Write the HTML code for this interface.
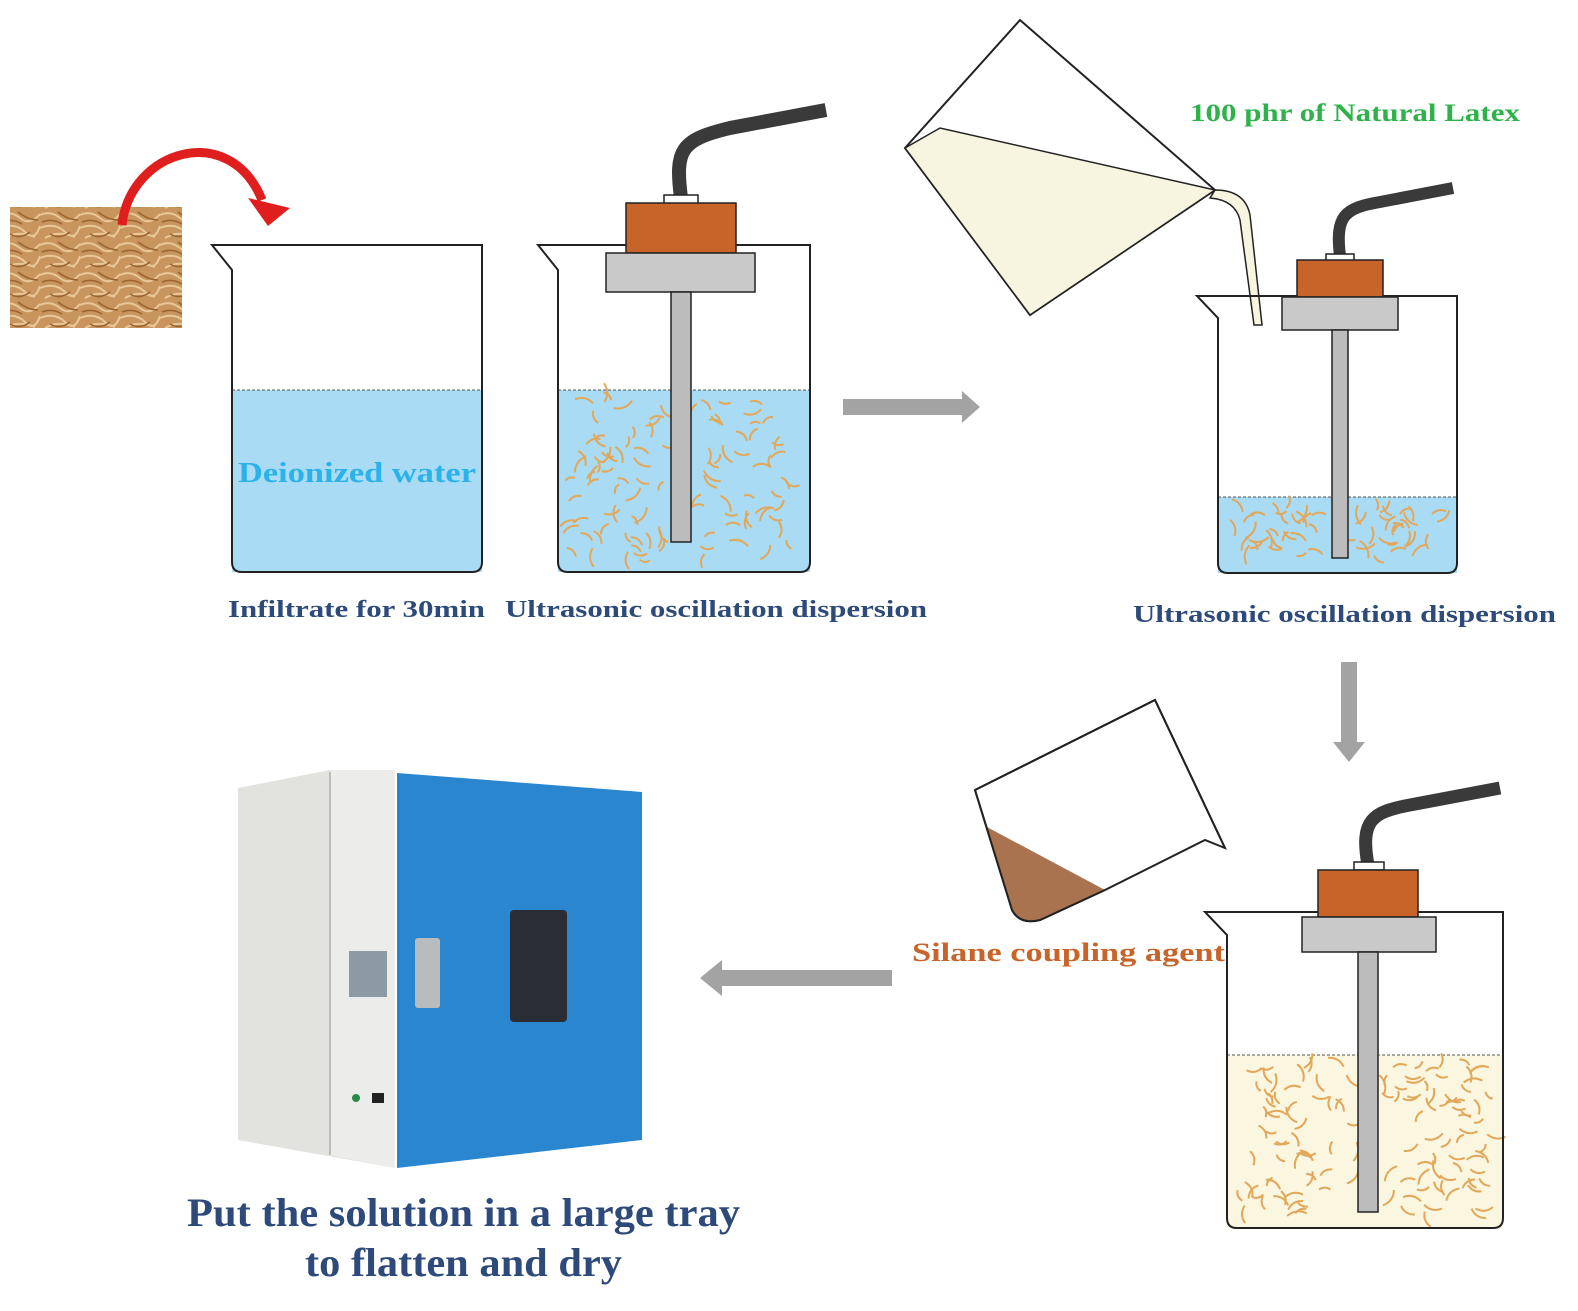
<!DOCTYPE html>
<html><head><meta charset="utf-8"><style>
html,body{margin:0;padding:0;background:#fff;}
svg text{font-family:"Liberation Serif",serif;font-weight:bold;}
</style></head><body>
<svg id="s" width="1578" height="1306" viewBox="0 0 1578 1306" xmlns="http://www.w3.org/2000/svg">
<defs>
<pattern id="fib" width="40" height="30" patternUnits="userSpaceOnUse">
<rect width="40" height="30" fill="#c9955e"/>
<path d="M0 5 Q10 0 20 8 T40 4 M0 18 Q15 12 25 22 T40 16 M5 28 Q18 20 35 27" stroke="#e8c898" stroke-width="2" fill="none"/>
<path d="M2 12 Q12 8 22 14 M18 2 Q28 10 38 10 M10 24 Q20 30 30 22" stroke="#9a6430" stroke-width="1.5" fill="none"/>
</pattern>
</defs>
<rect width="1578" height="1306" fill="#fff"/>
<rect x="10" y="207" width="172" height="121" fill="url(#fib)"/>
<path d="M122 225 C130 150 230 120 262 200" stroke="#e01e1e" stroke-width="9" fill="none"/>
<polygon points="248,198 290,208 268,226" fill="#e01e1e"/>

<!-- Beaker 1 -->
<rect x="232" y="390" width="250" height="182" fill="#a9dbf4"/>
<line x1="232" y1="390" x2="482" y2="390" stroke="#555" stroke-dasharray="3,2"/>
<path d="M212 245 L482 245 L482 562 Q482 572 472 572 L242 572 Q232 572 232 562 L232 270 Z" stroke="#222" stroke-width="2" fill="none"/>
<text x="238" y="482" font-size="29" fill="#2bb2ea" textLength="238" lengthAdjust="spacingAndGlyphs">Deionized water</text>

<!-- Beaker 2 -->
<rect x="558" y="390" width="252" height="182" fill="#a9dbf4"/>
<line x1="558" y1="390" x2="810" y2="390" stroke="#555" stroke-dasharray="3,2"/>
<g id="f2"></g>
<path d="M538 245 L810 245 L810 562 Q810 572 800 572 L568 572 Q558 572 558 562 L558 270 Z" stroke="#222" stroke-width="2" fill="none"/>
<path d="M681 198 C675 150 680 140 730 128 L826 110" stroke="#3a3a3a" stroke-width="14" fill="none"/>
<rect x="664" y="195" width="34" height="9" fill="#fff" stroke="#222" stroke-width="1.5"/>
<rect x="626" y="203" width="110" height="50" fill="#c8632a" stroke="#222" stroke-width="1.5"/>
<rect x="606" y="253" width="149" height="39" fill="#c9c9c9" stroke="#222" stroke-width="1.5"/>
<rect x="671" y="292" width="20" height="250" fill="#bcbcbc" stroke="#222" stroke-width="1.5"/>

<text x="228" y="617" font-size="24" fill="#2d4a7a" textLength="257" lengthAdjust="spacingAndGlyphs">Infiltrate for 30min</text>
<text x="505" y="617" font-size="24" fill="#2d4a7a" textLength="422" lengthAdjust="spacingAndGlyphs">Ultrasonic oscillation dispersion</text>

<polygon points="843,399 962,399 962,391 980,407 962,423 962,415 843,415" fill="#a3a3a3"/>

<!-- pitcher -->
<path d="M905 148 L1020 20 L1215 190 L1030 315 Z" fill="#fff" stroke="#222" stroke-width="2"/>
<path d="M905 148 L940 128 L1215 190 L1030 315 Z" fill="#f7f5df" stroke="#222" stroke-width="1.5"/>
<path d="M1215 190 Q1245 190 1250 215 L1262 325 L1254 325 L1240 220 Q1235 200 1210 198 Z" fill="#f7f5df" stroke="#222" stroke-width="1.5"/>
<text x="1190" y="121" font-size="25" fill="#2db34a" textLength="330" lengthAdjust="spacingAndGlyphs">100 phr of Natural Latex</text>

<!-- Beaker 3 -->
<rect x="1218" y="497" width="239" height="76" fill="#a9dbf4"/>
<line x1="1218" y1="497" x2="1457" y2="497" stroke="#555" stroke-dasharray="3,2"/>
<g id="f3"></g>
<path d="M1197 296 L1457 296 L1457 563 Q1457 573 1447 573 L1228 573 Q1218 573 1218 563 L1218 318 Z" stroke="#222" stroke-width="2" fill="none"/>
<path d="M1340 256 C1335 215 1345 208 1380 202 L1453 188" stroke="#3a3a3a" stroke-width="12" fill="none"/>
<rect x="1326" y="254" width="28" height="7" fill="#fff" stroke="#222" stroke-width="1.5"/>
<rect x="1297" y="260" width="86" height="37" fill="#c8632a" stroke="#222" stroke-width="1.5"/>
<rect x="1282" y="297" width="116" height="33" fill="#c9c9c9" stroke="#222" stroke-width="1.5"/>
<rect x="1332" y="330" width="16" height="228" fill="#bcbcbc" stroke="#222" stroke-width="1.5"/>
<text x="1133" y="622" font-size="24" fill="#2d4a7a" textLength="423" lengthAdjust="spacingAndGlyphs">Ultrasonic oscillation dispersion</text>

<polygon points="1341,662 1357,662 1357,742 1365,742 1349,762 1333,742 1341,742" fill="#a3a3a3"/>

<!-- small tilted beaker -->
<path d="M975 790 L1155 700 L1225 848 L1205 840 L1105 890 L1040 920 Q1020 925 1012 910 Z" fill="#fff" stroke="#222" stroke-width="2"/>
<path d="M985 826 L1105 890 L1040 920 Q1020 925 1012 910 Z" fill="#a8734e"/>
<path d="M975 790 L1155 700 L1225 848 M1105 890 L1040 920 Q1020 925 1012 910 L975 790" fill="none" stroke="#222" stroke-width="2"/>
<text x="912" y="961" font-size="26" fill="#c8632a" textLength="313" lengthAdjust="spacingAndGlyphs">Silane coupling agent</text>

<!-- Beaker 4 -->
<rect x="1227" y="1055" width="276" height="173" fill="#fbf6e0"/>
<line x1="1227" y1="1055" x2="1503" y2="1055" stroke="#555" stroke-dasharray="3,2"/>
<g id="f4"></g>
<path d="M1205 912 L1503 912 L1503 1218 Q1503 1228 1493 1228 L1237 1228 Q1227 1228 1227 1218 L1227 935 Z" stroke="#222" stroke-width="2" fill="none"/>
<path d="M1368 865 C1360 820 1372 812 1410 805 L1500 788" stroke="#3a3a3a" stroke-width="13" fill="none"/>
<rect x="1354" y="862" width="30" height="8" fill="#fff" stroke="#222" stroke-width="1.5"/>
<rect x="1318" y="870" width="100" height="47" fill="#c8632a" stroke="#222" stroke-width="1.5"/>
<rect x="1302" y="917" width="134" height="35" fill="#c9c9c9" stroke="#222" stroke-width="1.5"/>
<rect x="1358" y="952" width="20" height="260" fill="#bcbcbc" stroke="#222" stroke-width="1.5"/>

<polygon points="892,970 722,970 722,960 700,978 722,996 722,986 892,986" fill="#a3a3a3"/>

<!-- oven -->
<polygon points="238,788 330,770 395,770 395,1168 238,1140" fill="#e2e2de"/>
<polygon points="330,770 395,770 395,1168 330,1155" fill="#ececea"/>
<line x1="330" y1="772" x2="330" y2="1155" stroke="#bbb" stroke-width="2"/>
<polygon points="397,773 642,792 642,1140 397,1168" fill="#2a86cf"/>
<rect x="510" y="910" width="57" height="112" rx="4" fill="#2a2d33"/>
<rect x="415" y="938" width="25" height="70" rx="3" fill="#b9bcbf"/>
<rect x="349" y="951" width="38" height="46" fill="#8c9aa6"/>
<rect x="372" y="1093" width="12" height="10" fill="#222"/>
<circle cx="356" cy="1098" r="4" fill="#2a8a4a"/>

<text x="187" y="1226" font-size="40" fill="#2d4a7a" textLength="553" lengthAdjust="spacingAndGlyphs">Put the solution in a large tray</text>
<text x="305" y="1276" font-size="40" fill="#2d4a7a" textLength="317" lengthAdjust="spacingAndGlyphs">to flatten and dry</text>
</svg>
<script>
(function(){
var seed=7;function r(){seed=(seed*9301+49297)%233280;return seed/233280;}
function fill(id,x0,y0,w,h,n,skip){
var g=document.getElementById(id),s='';
for(var i=0;i<n;i++){var x=x0+r()*w,y=y0+r()*h;
if(skip&&x>skip[0]&&x<skip[1])continue;
var a=r()*6.28,l=10+r()*10,dx=Math.cos(a)*l,dy=Math.sin(a)*l;
s+='<path d="M'+x+' '+y+' q'+(dx/2-dy/3)+' '+(dy/2+dx/3)+' '+dx+' '+dy+'" stroke="#e3a75a" stroke-width="2" fill="none"/>';}
g.innerHTML=s;}
fill('f2',575,400,220,160,130,[666,696]);
fill('f3',1228,505,220,55,60,[1328,1352]);
fill('f4',1237,1065,255,150,140,[1354,1382]);
})();
</script>
</body></html>
